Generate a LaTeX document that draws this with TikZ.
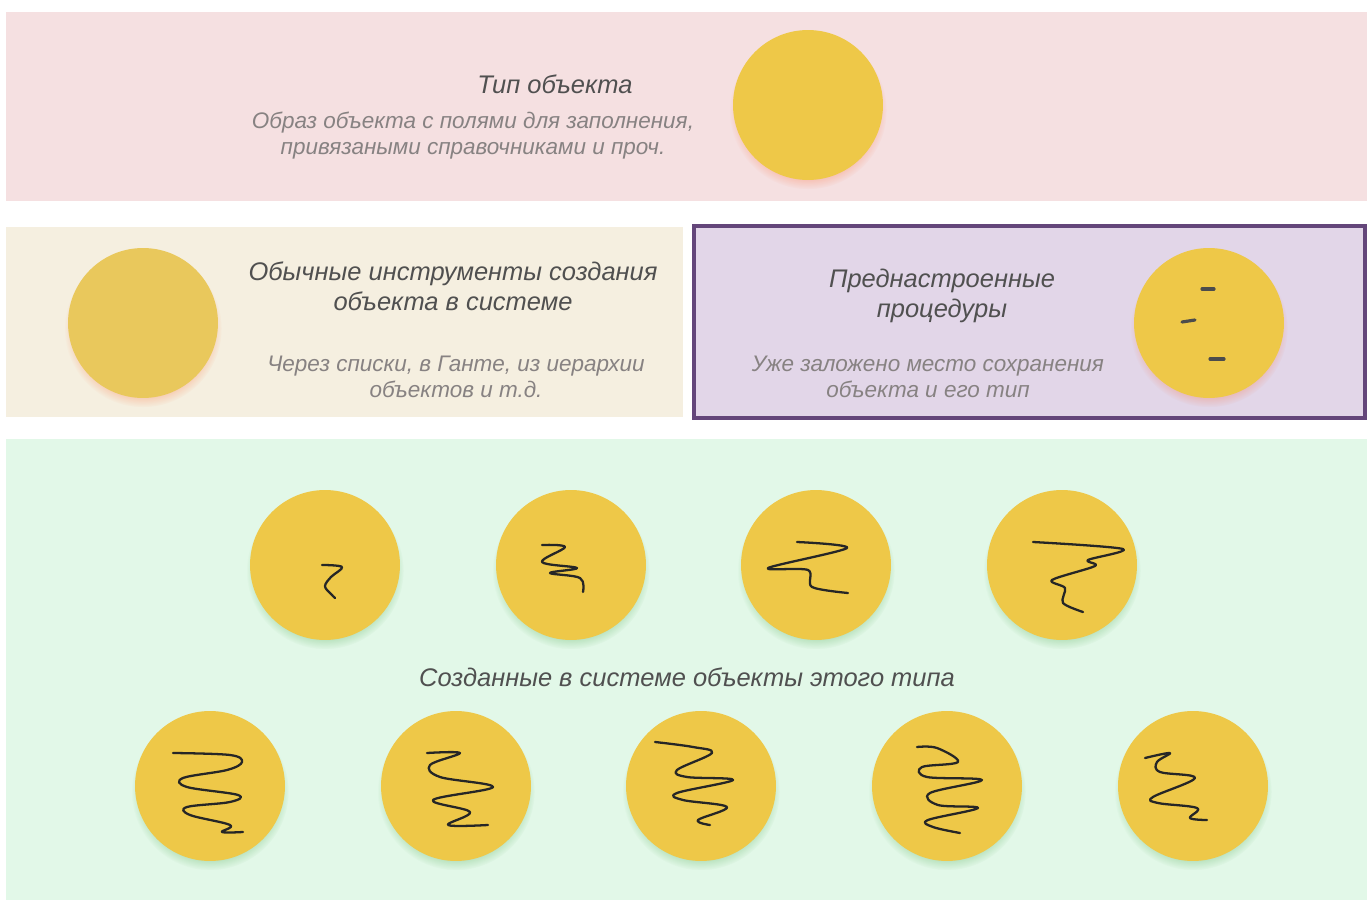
\documentclass[tikz,border=0pt]{standalone}
\usepackage{fontspec}
\setmainfont{Liberation Sans}
\usetikzlibrary{positioning,shadows}
\definecolor{bandpink}{RGB}{245,224,225}
\definecolor{bandbeige}{RGB}{245,239,224}
\definecolor{bandlilac}{RGB}{226,214,232}
\definecolor{framelilac}{RGB}{100,70,122}
\definecolor{bandgreen}{RGB}{226,248,232}
\definecolor{coin}{RGB}{238,200,72}
\definecolor{coinpale}{RGB}{233,200,92}
\definecolor{headgray}{RGB}{80,80,80}
\definecolor{notegray}{RGB}{135,130,130}
\tikzset{
  coinnode/.style={circle, fill=coin, minimum size=3cm, inner sep=0pt},
  shadowpink/.style={circular drop shadow={shadow xshift=0pt, shadow yshift=-3pt, shadow scale=1.05, fill=red!45!orange, opacity=0.22}},
  shadowgreen/.style={circular drop shadow={shadow xshift=0pt, shadow yshift=-3pt, shadow scale=1.05, fill=green!50!black, opacity=0.2}},
  headtext/.style={font=\fontsize{14.5}{17}\selectfont\itshape, text=headgray, align=center, inner sep=0pt},
  notetext/.style={font=\fontsize{12.8}{14.8}\selectfont\itshape, text=notegray, align=center, inner sep=0pt},
  scribble/.style={line width=1.3pt, black!85, line cap=round, line join=round},
  tick/.style={line width=1.8pt, black!70, line cap=round}
}
\begin{document}
\begin{tikzpicture}[x=0.02cm, y=-0.02cm]
  \useasboundingbox (0,0) rectangle (1367,902);
  % bands
  \fill[bandpink] (6,12) rectangle (1367,201);
  \fill[bandbeige] (6,227) rectangle (683,417);
  \fill[bandgreen] (6,439) rectangle (1367,900);
  \filldraw[fill=bandlilac, draw=framelilac, line width=2.2pt] (694,226) rectangle (1365,418);

  % object type
  \node[coinnode, shadowpink] (typ) at (808,105) {};
  \node[headtext] (typhead) at (555,84) {Тип объекта};
  \node[notetext] (typnote) at (473,136) {Образ объекта с полями для заполнения,\\привязаными справочниками и проч.};

  % usual tools
  \node[coinnode, fill=coinpale, shadowpink] (usual) at (143,323) {};
  \node[headtext] (usualhead) at (453,286) {Обычные инструменты создания\\объекта в системе};
  \node[notetext] (usualnote) at (456,377) {Через списки, в Ганте, из иерархии\\объектов и т.д.};

  % preset procedures
  \node[coinnode, shadowpink] (preset) at (1209,323) {};
  \node[headtext] (presethead) at (942,296) {Преднастроенные\\процедуры};
  \node[notetext] (presetnote) at (928,377) {Уже заложено место сохранения\\объекта и его тип};
  \begin{scope}[shift={(preset.center)}]
    \draw[tick] (-7,-34) -- (5,-34);
    \draw[tick] (-27,-1) -- (-14,-3);
    \draw[tick] (1,36) -- (15,36);
  \end{scope}

  % created objects
  \node[headtext] (madehead) at (687,677) {Созданные в системе объекты этого типа};
  \foreach \nm/\px in {a/325, b/571, c/816, d/1062}
    \node[coinnode, shadowgreen] (top\nm) at (\px,565) {};
  \foreach \nm/\px in {a/210, b/456, c/701, d/947, e/1193}
    \node[coinnode, shadowgreen] (low\nm) at (\px,786) {};

  \draw[scribble, shift={(topa.center)}] plot[smooth, tension=0.6] coordinates {(-3,0) (17,2) (6,12) (0,21) (5,28) (10,33)};
  \draw[scribble, shift={(topb.center)}] plot[smooth, tension=0.6] coordinates {(-29,-20) (-6,-18) (-29,-3) (6,3) (-21,8) (9,13) (12,27)};
  \draw[scribble, shift={(topc.center)}] plot[smooth, tension=0.5] coordinates {(-19,-23) (31,-17) (-48,3) (-8,5) (-4,22) (32,28)};
  \draw[scribble, shift={(topd.center)}] plot[smooth, tension=0.5] coordinates {(-29,-23) (61,-16) (26,-5) (33,1) (-10,15) (3,23) (1,38) (21,47)};

  \draw[scribble, shift={(lowa.center)}] plot[smooth, tension=0.6] coordinates {(-37,-33) (20,-31) (32,-24) (17,-16) (-27,-8) (-23,1) (28,9) (20,16) (-23,21) (-20,29) (20,39) (12,46) (33,46)};
  \draw[scribble, shift={(lowb.center)}] plot[smooth, tension=0.6] coordinates {(-29,-33) (4,-33) (-26,-21) (-16,-9) (37,1) (-23,14) (14,26) (-8,39) (32,39)};
  \draw[scribble, shift={(lowc.center)}] plot[smooth, tension=0.6] coordinates {(-46,-44) (-8,-39) (11,-33) (-24,-16) (-14,-9) (32,-6) (-24,7) (-18,14) (26,21) (-3,34) (9,39)};
  \draw[scribble, shift={(lowd.center)}] plot[smooth, tension=0.6] coordinates {(-30,-39) (-10,-38) (11,-24) (-25,-19) (-20,-9) (35,-6) (-17,7) (-9,19) (31,22) (-19,34) (-14,41) (13,47)};
  \draw[scribble, shift={(lowe.center)}] plot[smooth, tension=0.6] coordinates {(-48,-28) (-23,-33) (-36,-24) (-33,-14) (2,-8) (-40,11) (-35,17) (4,22) (-3,32) (14,34)};
\end{tikzpicture}
\end{document}
